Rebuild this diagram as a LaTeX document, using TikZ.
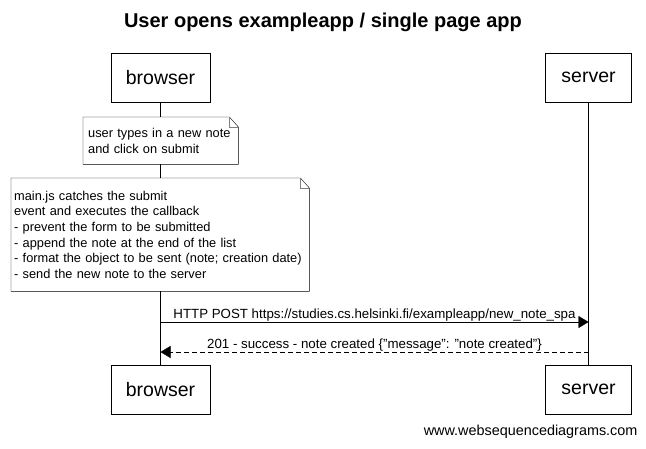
\documentclass[tikz,border=0pt]{standalone}
\usepackage{fontspec}
\setmainfont{Liberation Sans}
\usetikzlibrary{arrows.meta,positioning,calc}
\tikzset{
  actor/.style={draw, minimum height=49pt, inner sep=0pt, font=\fontsize{19.5}{24}\selectfont},
  note/.style={fill=white, anchor=north west, align=left, inner xsep=3pt, inner ysep=0pt, font=\fontsize{12.8}{15.6}\selectfont},
  msg/.style={-{Triangle[length=10pt,width=12pt]}},
  reply/.style={msg, dash pattern=on 5pt off 3pt},
  label/.style={font=\fontsize{13.3}{15}\selectfont, inner sep=1pt}
}
\begin{document}
\begin{tikzpicture}[x=1pt,y=-1pt]
    \useasboundingbox (0,0) rectangle (646,448);
    \node [font=\bfseries\fontsize{20}{24}\selectfont] (title) at (323,22) {User opens exampleapp / single page app};
    \node [actor, minimum width=99pt] (browserTop) at (160.5,77.5) {browser};
    \node [actor, minimum width=86pt] (serverTop) at (588.5,77.5) {server};
    \node [actor, minimum width=99pt] (browserBot) at (160.5,389.5) {browser};
    \node [actor, minimum width=86pt] (serverBot) at (588.5,389.5) {server};
    \draw (browserTop) -- (browserBot);
    \draw (serverTop) -- (serverBot);
    \node [note, inner xsep=5pt, text width=145pt, minimum height=47pt] (typing) at (83,117) {user types in a new note\\and click on submit};
    \node [note, text width=292pt, minimum height=113pt] (callback) at (11,178) {main.js catches the submit\\event and executes the callback\\- prevent the form to be submitted\\- append the note at the end of the list\\- format the object to be sent (note; creation date)\\- send the new note to the server};
    \foreach \n in {typing, callback} {
        \draw (\n.north west) -- ([xshift=-9pt]\n.north east) -- ([yshift=-10pt]\n.north east) -- (\n.south east) -- (\n.south west) -- cycle;
        \draw [gray] ([xshift=-9pt]\n.north east) |- ([yshift=-10pt]\n.north east);
    }
    \coordinate (postB) at (browserTop |- 0,322);
    \coordinate (postS) at (serverTop |- 0,322);
    \coordinate (replyB) at (browserTop |- 0,352);
    \coordinate (replyS) at (serverTop |- 0,352);
    \draw [msg] (postB) -- node [label, above] {HTTP POST https://studies.cs.helsinki.fi/exampleapp/new\_note\_spa} (postS);
    \draw [reply] (replyS) -- node [label, above] {201 - success - note created \{"message": "note created"\}} (replyB);
    \node [font=\fontsize{14.4}{16}\selectfont, anchor=east] (site) at (641,432) {www.websequencediagrams.com};
\end{tikzpicture}
\end{document}
